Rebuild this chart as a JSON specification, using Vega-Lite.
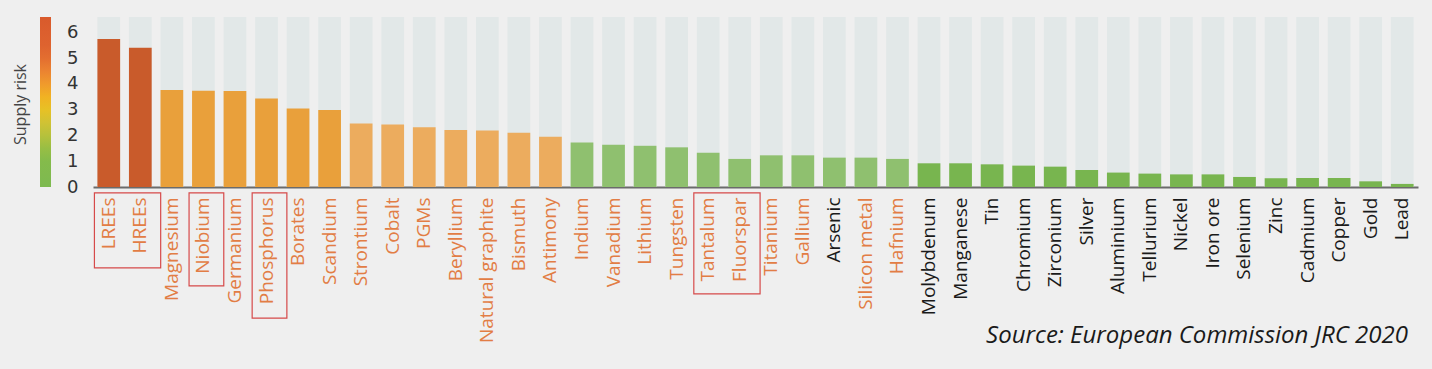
{
  "$schema": "https://vega.github.io/schema/vega-lite/v6.json",
  "width": 1325,
  "height": 170,
  "autosize": {"type": "none"},
  "padding": {"left": 93, "top": 17, "right": 14, "bottom": 182},
  "background": "#EFEFEF",
  "config": {"view": {"stroke": null}, "font": "Open Sans"},
  "resolve": {"axis": {"y": "independent"}},
  "title": {
    "text": "Source: European Commission JRC 2020",
    "orient": "bottom",
    "anchor": "end",
    "frame": "group",
    "font": "Open Sans",
    "fontStyle": "italic",
    "fontWeight": "normal",
    "fontSize": 24,
    "color": "#1a1a1a",
    "dx": -10,
    "dy": -22
  },
  "datasets": {
    "risk": [
      {"name": "LREEs", "risk": 5.75, "tier": "A"},
      {"name": "HREEs", "risk": 5.41, "tier": "A"},
      {"name": "Magnesium", "risk": 3.77, "tier": "B"},
      {"name": "Niobium", "risk": 3.74, "tier": "B"},
      {"name": "Germanium", "risk": 3.73, "tier": "B"},
      {"name": "Phosphorus", "risk": 3.44, "tier": "B"},
      {"name": "Borates", "risk": 3.05, "tier": "B"},
      {"name": "Scandium", "risk": 2.99, "tier": "B"},
      {"name": "Strontium", "risk": 2.47, "tier": "C"},
      {"name": "Cobalt", "risk": 2.43, "tier": "C"},
      {"name": "PGMs", "risk": 2.32, "tier": "C"},
      {"name": "Beryllium", "risk": 2.21, "tier": "C"},
      {"name": "Natural graphite", "risk": 2.19, "tier": "C"},
      {"name": "Bismuth", "risk": 2.11, "tier": "C"},
      {"name": "Antimony", "risk": 1.95, "tier": "C"},
      {"name": "Indium", "risk": 1.73, "tier": "D"},
      {"name": "Vanadium", "risk": 1.64, "tier": "D"},
      {"name": "Lithium", "risk": 1.6, "tier": "D"},
      {"name": "Tungsten", "risk": 1.54, "tier": "D"},
      {"name": "Tantalum", "risk": 1.33, "tier": "D"},
      {"name": "Fluorspar", "risk": 1.09, "tier": "D"},
      {"name": "Titanium", "risk": 1.23, "tier": "D"},
      {"name": "Gallium", "risk": 1.23, "tier": "D"},
      {"name": "Arsenic", "risk": 1.14, "tier": "D"},
      {"name": "Silicon metal", "risk": 1.14, "tier": "D"},
      {"name": "Hafnium", "risk": 1.09, "tier": "D"},
      {"name": "Molybdenum", "risk": 0.92, "tier": "E"},
      {"name": "Manganese", "risk": 0.92, "tier": "E"},
      {"name": "Tin", "risk": 0.88, "tier": "E"},
      {"name": "Chromium", "risk": 0.83, "tier": "E"},
      {"name": "Zirconium", "risk": 0.79, "tier": "E"},
      {"name": "Silver", "risk": 0.66, "tier": "E"},
      {"name": "Aluminium", "risk": 0.56, "tier": "E"},
      {"name": "Tellurium", "risk": 0.52, "tier": "E"},
      {"name": "Nickel", "risk": 0.49, "tier": "E"},
      {"name": "Iron ore", "risk": 0.49, "tier": "E"},
      {"name": "Selenium", "risk": 0.39, "tier": "E"},
      {"name": "Zinc", "risk": 0.34, "tier": "E"},
      {"name": "Cadmium", "risk": 0.35, "tier": "E"},
      {"name": "Copper", "risk": 0.35, "tier": "E"},
      {"name": "Gold", "risk": 0.22, "tier": "E"},
      {"name": "Lead", "risk": 0.12, "tier": "E"}
    ],
    "boxes": [
      {"from": "LREEs", "to": "HREEs", "top": -0.23, "bottom": -3.14},
      {"from": "Niobium", "to": "Niobium", "top": -0.23, "bottom": -3.84},
      {"from": "Phosphorus", "to": "Phosphorus", "top": -0.23, "bottom": -5.09},
      {"from": "Tantalum", "to": "Fluorspar", "top": -0.23, "bottom": -4.15}
    ]
  },
  "layer": [
    {
      "data": {"name": "risk"},
      "mark": {"type": "bar", "color": "#E2E8E8"},
      "encoding": {
        "x": {
          "field": "name",
          "type": "nominal",
          "sort": null,
          "scale": {"paddingInner": 0.28, "paddingOuter": 0.14},
          "axis": {
            "title": null,
            "domain": true,
            "domainColor": "#6b6b6b",
            "domainWidth": 2,
            "ticks": false,
            "labelAngle": -90,
            "labelAlign": "right",
            "labelBaseline": "middle",
            "labelPadding": 10,
            "labelFontSize": 19,
            "labelFont": "Open Sans",
            "labelLimit": 300,
            "labelColor": {
              "condition": {
                "test": "indexof(['Arsenic','Molybdenum','Manganese','Tin','Chromium','Zirconium','Silver','Aluminium','Tellurium','Nickel','Iron ore','Selenium','Zinc','Cadmium','Copper','Gold','Lead'], datum.value) >= 0",
                "value": "#1a1a1a"
              },
              "value": "#E27D45"
            }
          }
        },
        "y": {
          "datum": 6.6,
          "type": "quantitative",
          "scale": {"domain": [0, 6.6], "nice": false},
          "axis": null
        }
      }
    },
    {
      "data": {"name": "risk"},
      "mark": {"type": "bar"},
      "encoding": {
        "x": {"field": "name", "type": "nominal", "sort": null},
        "y": {
          "field": "risk",
          "type": "quantitative",
          "axis": {
            "values": [0, 1, 2, 3, 4, 5, 6],
            "labelOverlap": false,
            "domain": false,
            "ticks": false,
            "grid": false,
            "labelPadding": 15,
            "labelFontSize": 18,
            "labelFont": "DejaVu Sans",
            "labelColor": "#333333",
            "title": "Supply risk",
            "titleFont": "Open Sans",
            "titleFontSize": 16,
            "titleFontWeight": "normal",
            "titleColor": "#444444",
            "titleX": -73,
            "titleY": 87,
            "titleAngle": -90,
            "titleAlign": "center",
            "titleBaseline": "middle"
          }
        },
        "fill": {
          "field": "tier",
          "type": "nominal",
          "scale": {"domain": ["A", "B", "C", "D", "E"], "range": ["#C95B2B", "#E9A03B", "#ECAC5E", "#8FC06F", "#78B54F"]},
          "legend": null
        }
      }
    },
    {
      "data": {"name": "risk"},
      "mark": {"type": "point", "opacity": 0},
      "encoding": {
        "x": {"field": "name", "type": "nominal", "sort": null},
        "y": {"field": "risk", "type": "quantitative", "axis": null},
        "color": {
          "field": "risk",
          "type": "quantitative",
          "scale": {
            "domain": [0, 1.2, 2.3, 3.2, 4.3, 5.2, 6.6],
            "range": ["#7DBA50", "#86BB4A", "#C8C23A", "#F0C020", "#EE8C32", "#DF6530", "#D95A2C"]
          },
          "legend": {
            "orient": "none",
            "legendX": -53,
            "legendY": 0,
            "direction": "vertical",
            "gradientLength": 170,
            "gradientThickness": 11,
            "gradientStrokeWidth": 0,
            "title": null,
            "labelExpr": "''"
          }
        }
      }
    },
    {
      "data": {"name": "boxes"},
      "mark": {"type": "rect", "fill": "transparent", "stroke": "#D64A4A", "strokeWidth": 1.2, "xOffset": -3, "x2Offset": 9},
      "encoding": {
        "x": {"field": "from", "type": "nominal", "sort": null, "bandPosition": 0},
        "x2": {"field": "to", "bandPosition": 1},
        "y": {"field": "top", "type": "quantitative", "axis": null},
        "y2": {"field": "bottom"}
      }
    }
  ]
}
